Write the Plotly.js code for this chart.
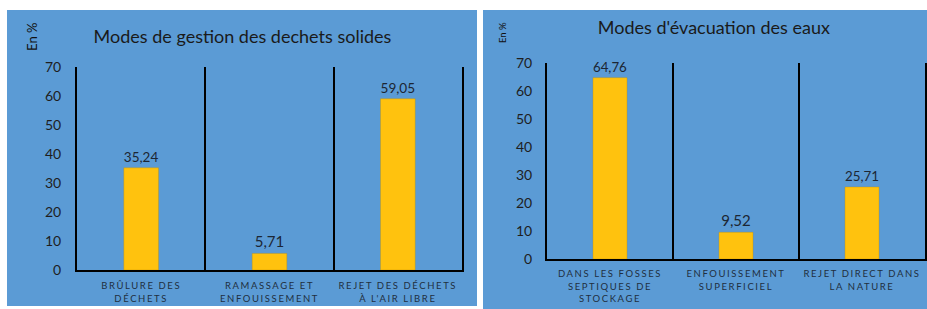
<!DOCTYPE html>
<html><head><meta charset="utf-8">
<script src="https://cdn.plot.ly/plotly-3.0.1.min.js"></script>
<style>
html,body{margin:0;padding:0;background:#fff;width:927px;height:309px;overflow:hidden;}
#c1{position:absolute;left:7px;top:10px;width:470px;height:296px;}
#c2{position:absolute;left:483px;top:10px;width:444px;height:299px;}
.xtick text{letter-spacing:1.6px;}
</style></head>
<body>
<div id="c1"></div><div id="c2"></div>
<script>
const titleSolids = "Modes de gestion des dechets solides";
const catsSolids = ["BRÛLURE DES<br>DÉCHETS", "RAMASSAGE ET<br>ENFOUISSEMENT", "REJET DES DÉCHETS<br>À L'AIR LIBRE"];
const valsSolids = [35.24, 5.71, 59.05];
const titleWater = "Modes d'évacuation des eaux";
const catsWater = ["DANS LES FOSSES<br>SEPTIQUES DE<br>STOCKAGE", "ENFOUISSEMENT<br>SUPERFICIEL", "REJET DIRECT DANS<br>LA NATURE"];
const valsWater = [64.76, 9.52, 25.71];
const yTicks = [0, 10, 20, 30, 40, 50, 60, 70];
const yLabel = "En %";

const BLUE = "#5B9BD5";
const FONT = "Lato, 'Open Sans', sans-serif";

function makePlot(id, cats, vals, title, opts) {
  const trace = {
    type: "bar", x: cats, y: vals, width: 0.27,
    marker: {color: "#FFC20E", line: {color: "rgba(190,140,0,0.6)", width: 0.6}},
    text: vals, texttemplate: "%{y:.2f}", textposition: "outside", cliponaxis: false,
    textfont: {family: FONT, size: 15, color: "#1c2633"},
    hoverinfo: "none"
  };
  const layout = {
    width: opts.w, height: opts.h,
    paper_bgcolor: BLUE, plot_bgcolor: BLUE,
    separators: ", ",
    margin: opts.margin,
    showlegend: false,
    title: {text: title, x: opts.tx, xref: "container", xanchor: "center",
            y: opts.ty, yref: "container", yanchor: "middle",
            font: {family: FONT, size: 18, color: "#1a1a1a"}},
    xaxis: {type: "category", tickson: "boundaries", showgrid: true, gridcolor: "#000", gridwidth: 2,
            showline: true, linecolor: "#000", linewidth: 2, ticks: "", ticklabelstandoff: opts.xstand,
            tickfont: {family: FONT, size: 9.5, color: "#1f2f40"}, fixedrange: true},
    yaxis: {range: [0, 70], tickvals: yTicks, showgrid: false, zeroline: false,
            showline: true, mirror: true, linecolor: "#000", linewidth: 2, ticks: "",
            ticklabelstandoff: opts.ystand,
            tickfont: {family: FONT, size: 14, color: "#1e1e1e"}, fixedrange: true},
    annotations: [{text: yLabel, xref: "paper", yref: "paper", x: opts.ax, y: opts.ay,
                   xanchor: "center", yanchor: "middle", textangle: -90, showarrow: false,
                   font: {family: FONT, size: opts.asize, color: "#111"}}]
  };
  Plotly.newPlot(id, [trace], layout, {displayModeBar: false, staticPlot: true});
}

makePlot("c1", catsSolids, valsSolids, titleSolids,
  {w: 470, h: 296, margin: {l: 70, r: 15, t: 57, b: 36}, tx: 0.501, ty: 1 - 27/296,
   xstand: 6, ystand: 11, ax: -0.117, ay: 1.148, asize: 13});
makePlot("c2", catsWater, valsWater, titleWater,
  {w: 444, h: 299, margin: {l: 64, r: 2, t: 53, b: 50}, tx: 0.52, ty: 1 - 18/299,
   xstand: 5, ystand: 10, ax: -0.119, ay: 1.153, asize: 9.5});
</script>
</body></html>
